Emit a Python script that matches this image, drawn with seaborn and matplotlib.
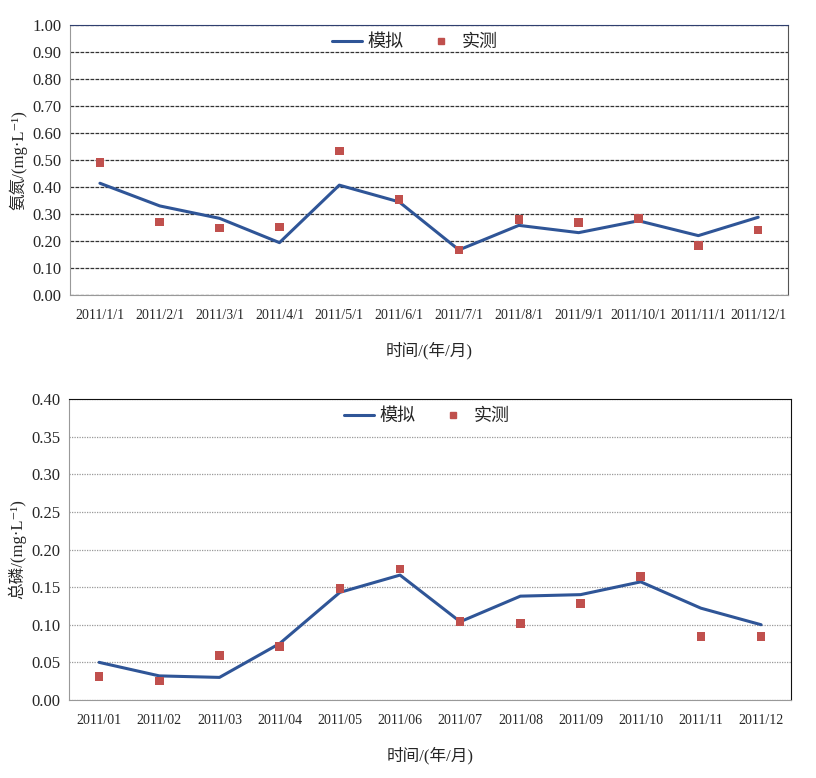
import numpy as np
import pandas as pd
import matplotlib
matplotlib.use('Agg')
import matplotlib.pyplot as plt
import seaborn as sns
from matplotlib.lines import Line2D

# data
months_nh = ['2011/1/1', '2011/2/1', '2011/3/1', '2011/4/1', '2011/5/1', '2011/6/1',
             '2011/7/1', '2011/8/1', '2011/9/1', '2011/10/1', '2011/11/1', '2011/12/1']
nh_sim = [0.414, 0.330, 0.284, 0.194, 0.407, 0.345, 0.167, 0.258, 0.231, 0.275, 0.220, 0.288]
nh_obs = [0.491, 0.271, 0.249, 0.252, 0.534, 0.353, 0.167, 0.280, 0.268, 0.284, 0.184, 0.241]

months_tp = ['2011/01', '2011/02', '2011/03', '2011/04', '2011/05', '2011/06',
             '2011/07', '2011/08', '2011/09', '2011/10', '2011/11', '2011/12']
tp_sim = [0.050, 0.032, 0.030, 0.075, 0.143, 0.166, 0.104, 0.138, 0.140, 0.157, 0.122, 0.100]
tp_obs = [0.031, 0.025, 0.059, 0.071, 0.148, 0.174, 0.104, 0.102, 0.128, 0.164, 0.084, 0.084]

sns.set_style('white')
plt.rcParams['font.family'] = ['Liberation Serif', 'Noto Sans CJK SC', 'DejaVu Sans']
plt.rcParams['axes.unicode_minus'] = False

line_c = '#2F5597'
mark_c = '#C0504D'

fig = plt.figure(figsize=(8.16, 7.78), dpi=100)
ax1 = fig.add_axes([0.0858, 0.6208, 0.880, 0.347])
ax2 = fig.add_axes([0.0846, 0.1003, 0.885, 0.3868])


def draw(ax, labels, sim, obs, ymax, ystep, ylabel, grid_c, grid_ls, leg_x):
    df = pd.DataFrame({'i': np.arange(len(labels)), 'sim': sim, 'obs': obs})
    sns.lineplot(data=df, x='i', y='sim', ax=ax, color=line_c, lw=2.2, zorder=3)
    sns.scatterplot(data=df, x='i', y='obs', ax=ax, color=mark_c, marker='s', s=38,
                    edgecolor='none', zorder=4)
    ax.set_xlim(-0.5, len(labels) - 0.5)
    ax.set_ylim(0, ymax)
    yt = np.round(np.arange(0, ymax + ystep / 2, ystep), 2)
    ax.set_yticks(yt)
    ax.set_yticklabels(['{:.2f}'.format(v) for v in yt], fontsize=12)
    ax.set_xticks(np.arange(-0.5, len(labels)))
    ax.set_xticklabels([])
    ax.set_xticks(np.arange(len(labels)), minor=True)
    ax.set_xticklabels(labels, minor=True, fontsize=10)
    ax.tick_params(axis='x', which='major', direction='out', length=4, color='#888888')
    ax.tick_params(axis='x', which='minor', length=0, pad=10)
    ax.tick_params(axis='y', direction='out', length=4, color='#888888', pad=2)
    ax.yaxis.grid(True, color=grid_c, linestyle=grid_ls, lw=0.9)
    ax.xaxis.grid(False)
    ax.set_xlabel('时间/(年/月)', fontsize=12, labelpad=14)
    ax.set_ylabel(ylabel, fontsize=12, labelpad=4)
    for s in ['left', 'bottom']:
        ax.spines[s].set_color('#999999')
    ax.spines['right'].set_color('#555555')
    handles = [Line2D([0], [0], color=line_c, lw=2.2),
               Line2D([0], [0], color=mark_c, marker='s', ls='none', markersize=5)]
    ax.legend(handles, ['模拟', '实测'], loc='upper center', bbox_to_anchor=(leg_x, 1.0),
              ncol=2, frameon=False, fontsize=13, handlelength=1.7, handletextpad=0.3,
              columnspacing=1.2, borderaxespad=0.1)


draw(ax1, months_nh, nh_sim, nh_obs, 1.0, 0.1, '氨氮/(mg·L⁻¹)',
     '#333333', (0, (3, 1)), 0.48)
ax1.spines['top'].set_color('#2F3F6F')

draw(ax2, months_tp, tp_sim, tp_obs, 0.4, 0.05, '总磷/(mg·L⁻¹)',
     '#999999', (0, (1, 1)), 0.495)
ax2.spines['top'].set_color('#111111')
ax2.spines['right'].set_color('#111111')

fig.savefig('out.png', dpi=100)
